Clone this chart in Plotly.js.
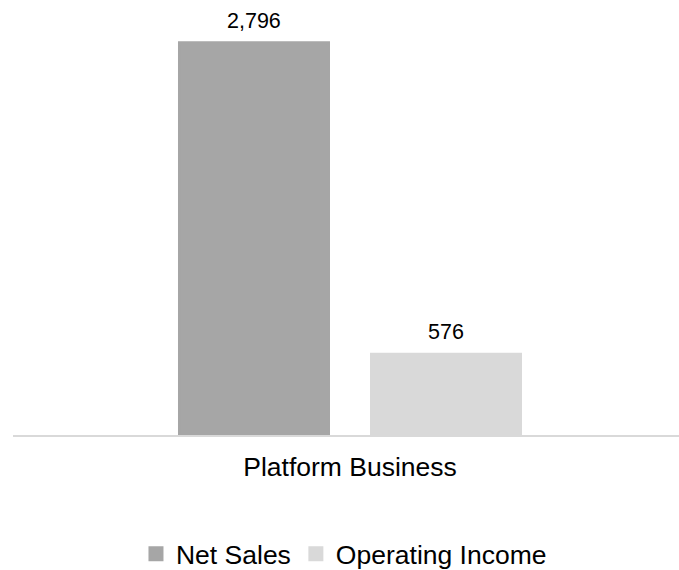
<!DOCTYPE html>
<html>
<head>
<meta charset="utf-8">
<script src="https://cdn.plot.ly/plotly-3.0.1.min.js"></script>
<style>html,body{margin:0;padding:0;background:#fff;}#chart{width:679px;height:570px;}</style>
</head>
<body>
<div id="chart"></div>
<script>
const categories = ["Platform Business"];
const seriesNames = ["Net Sales", "Operating Income"];
const netSales = [2796];
const operatingIncome = [576];
const colors = ["#a6a6a6", "#d9d9d9"];

const font = "Liberation Sans, Arial, sans-serif";
const seriesValues = [netSales, operatingIncome];

const traces = seriesValues.map((vals, i) => ({
  type: "bar",
  name: seriesNames[i],
  x: categories,
  y: vals,
  marker: {color: colors[i], line: {color: colors[i], width: 3}},
  hoverinfo: "none"
}));

// value labels, placed at each bar's value through the axes
const slotShift = [-96, 96];
const annotations = [];
seriesValues.forEach((vals, i) => {
  vals.forEach((v, j) => {
    annotations.push({
      x: categories[j], y: v, xref: "x", yref: "y",
      text: v.toLocaleString("en-US"),
      showarrow: false, yanchor: "bottom", xanchor: "center",
      xshift: slotShift[i], yshift: 8,
      font: {family: font, size: 21.5, color: "#000"}
    });
  });
});

const layout = {
  width: 679, height: 570,
  margin: {l: 13, r: 0, t: 14, b: 135},
  paper_bgcolor: "#fff", plot_bgcolor: "#fff",
  barmode: "group",
  bargap: 0.4234,
  bargroupgap: 0.224,
  font: {family: font, color: "#000"},
  xaxis: {
    type: "category",
    range: [-0.506, 0.494],
    showline: true, linecolor: "#d9d9d9", linewidth: 2,
    ticks: "", showgrid: false,
    tickfont: {family: font, size: 26.5, color: "#000"},
    ticklabelstandoff: 7
  },
  yaxis: {
    range: [0, 3000],
    visible: false, showgrid: false, zeroline: false
  },
  annotations: annotations,
  showlegend: true,
  legend: {
    orientation: "h",
    xref: "container", yref: "container",
    x: 0.5066, xanchor: "center",
    y: 0.028, yanchor: "middle",
    font: {family: font, size: 26.5, color: "#000"},
    itemwidth: 30,
    traceorder: "normal"
  }
};

Plotly.newPlot("chart", traces, layout, {displayModeBar: false, staticPlot: true});
</script>
</body>
</html>
